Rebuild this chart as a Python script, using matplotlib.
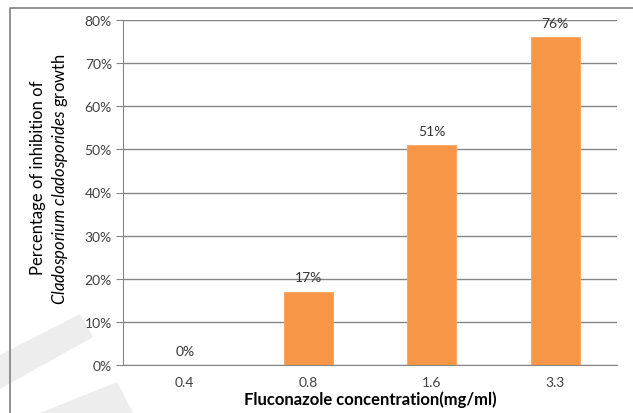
import numpy as np
import matplotlib.pyplot as plt
from matplotlib.patches import Polygon
from matplotlib.lines import Line2D
from matplotlib.ticker import PercentFormatter

# data
concentrations = ["0.4", "0.8", "1.6", "3.3"]
inhibition = [0.00, 0.17, 0.51, 0.76]
bar_labels = ["0%", "17%", "51%", "76%"]
y_ticks = [0.0, 0.1, 0.2, 0.3, 0.4, 0.5, 0.6, 0.7, 0.8]

plt.rcParams['font.family'] = ['Lato', 'DejaVu Sans']
plt.rcParams['mathtext.fontset'] = 'custom'
plt.rcParams['mathtext.it'] = 'Lato:italic'
plt.rcParams['mathtext.rm'] = 'Lato'

W, H = 633, 414
fig = plt.figure(figsize=(W / 100, H / 100), dpi=100)

# faint watermark strips in the lower left corner
for pts in ([(0, 356), (80, 315), (93, 338), (0, 390)],
            [(40, 414), (117, 383), (133, 414)]):
    fig.patches.append(Polygon([(x / W, 1 - y / H) for x, y in pts], closed=True,
                               transform=fig.transFigure, facecolor='#ededed',
                               edgecolor='none', zorder=-1))

# outer frame (left and top only visible)
fig.lines.append(Line2D([10 / W, 10 / W, 1], [0, 1 - 9 / H, 1 - 9 / H],
                        transform=fig.transFigure, color='#7f7f7f', lw=1.2))

ax = fig.add_axes([123 / W, 1 - 366 / H, 494 / W, 345 / H])
x = np.arange(len(concentrations))
bars = ax.bar(x, inhibition, width=0.4, color='#F79646', edgecolor='#F9A460',
              linewidth=0.6, zorder=3)
for xi, v, lab in zip(x, inhibition, bar_labels):
    ax.annotate(lab, (xi, v), xytext=(0, 6), textcoords='offset points',
                ha='center', va='bottom', fontsize=10, color='#333333')

ax.set_xlim(-0.5, len(concentrations) - 0.5)
ax.set_ylim(0, 0.8)
ax.set_yticks(y_ticks)
ax.yaxis.set_major_formatter(PercentFormatter(1.0, decimals=0))
ax.set_xticks(x)
ax.set_xticklabels(concentrations)
ax.grid(axis='y', color='#868686', lw=1, zorder=0)
ax.tick_params(axis='y', length=5, color='#868686', labelsize=10, labelcolor='#404040', pad=3)
ax.tick_params(axis='x', length=0, labelsize=10, labelcolor='#404040', pad=8)
for s in ('top', 'right'):
    ax.spines[s].set_visible(False)
for s in ('left', 'bottom'):
    ax.spines[s].set_color('#868686')

ax.set_xlabel('Fluconazole concentration(mg/ml)', fontsize=12, fontweight='bold',
              labelpad=2)

fig.text(38 / W, 1 - 178 / H, 'Percentage of inhibition of', rotation=90,
         ha='center', va='center', fontsize=12)
fig.text(60 / W, 1 - 179 / H, r'$Cladosporium\ cladosporides$ growth', rotation=90,
         ha='center', va='center', fontsize=12)

fig.savefig('out.png', dpi=100)
